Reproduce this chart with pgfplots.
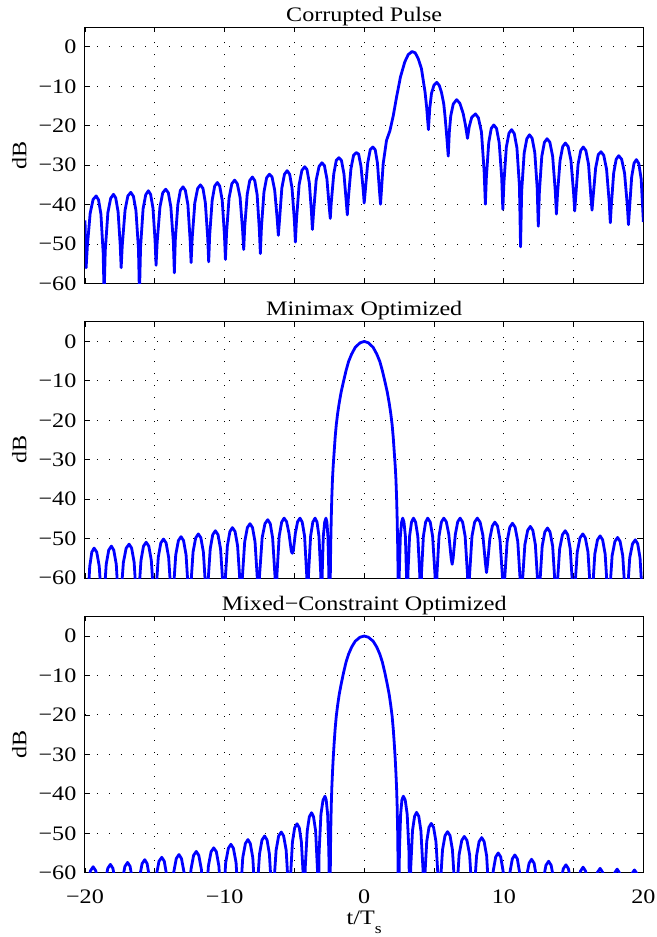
\documentclass[border=0pt]{standalone}
\usepackage{fontspec}
\setmainfont{Liberation Serif}[FakeStretch=1.17]
\usepackage{pgfplots}
\pgfplotsset{compat=1.18}
\newcommand{\lblfont}{\fontsize{10.3}{12}\selectfont}
\pgfplotsset{
  panel/.style={
    scale only axis, width=279.2pt, height=128.2pt,
    xmin=-20, xmax=20, ymin=-60, ymax=5,
    xtick={-20,-10,0,10,20},
    extra x ticks={-15,-5,5,15}, extra x tick labels={},
    extra x tick style={grid=major},
    ytick={-60,-50,-40,-30,-20,-10,0},
    yticklabels={−60,−50,−40,−30,−20,−10,0},
    grid=major,
    grid style={black, line width=0.5pt, dash pattern=on 0.5pt off 5.5pt},
    tick align=inside, major tick length=2.5pt,
    tick style={black, line width=0.4pt},
    axis line style={line width=0.5pt},
    ylabel={dB},
    tick label style={font=\lblfont},
    yticklabel style={xshift=-0.8pt},
    xticklabel style={yshift=-5.2pt},
    ylabel style={font=\lblfont, at={(axis description cs:-0.1038,0.5)}, anchor=south, inner sep=0pt},
    title style={font=\lblfont, inner sep=0pt, yshift=0.5pt},
    every axis title shift=0pt,
    clip=true,
  },
  curve/.style={blue, line width=1.4pt, line join=round, no markers},
}
\begin{document}
\begin{tikzpicture}
% ---------------- Panel 1 ----------------
\begin{axis}[panel, at={(0,294.6pt)}, anchor=south west, title={Corrupted Pulse}, xticklabels={}]
\addplot[curve] coordinates {
(-20.00,-44.0) (-19.92,-56.0)
(-19.83,-50.5) (-19.63,-42.2) (-19.42,-38.7) (-19.20,-37.8) (-19.03,-38.8) (-18.86,-42.4) (-18.70,-52.1) (-18.63,-63.0)
(-18.55,-51.7) (-18.36,-42.0) (-18.16,-38.4) (-17.96,-37.4) (-17.80,-38.3) (-17.63,-41.8) (-17.48,-50.1) (-17.41,-56.0)
(-17.33,-50.3) (-17.13,-41.4) (-16.93,-37.8) (-16.72,-36.9) (-16.53,-37.9) (-16.35,-41.5) (-16.17,-51.2) (-16.10,-63.0)
(-16.02,-50.8) (-15.84,-41.1) (-15.65,-37.5) (-15.46,-36.5) (-15.30,-37.4) (-15.13,-40.9) (-14.98,-49.2) (-14.91,-55.4)
(-14.83,-49.5) (-14.63,-40.6) (-14.43,-37.0) (-14.22,-36.1) (-14.03,-37.0) (-13.85,-40.6) (-13.67,-49.5) (-13.60,-57.3)
(-13.53,-48.9) (-13.35,-40.0) (-13.17,-36.4) (-12.98,-35.5) (-12.81,-36.4) (-12.63,-40.0) (-12.47,-48.9) (-12.40,-54.7)
(-12.32,-48.4) (-12.13,-39.5) (-11.93,-35.9) (-11.73,-35.0) (-11.55,-35.9) (-11.38,-39.5) (-11.21,-48.4) (-11.14,-54.5)
(-11.07,-47.8) (-10.89,-38.9) (-10.71,-35.3) (-10.52,-34.4) (-10.35,-35.3) (-10.17,-38.9) (-10.01,-47.8) (-9.94,-53.9)
(-9.86,-47.2) (-9.68,-38.3) (-9.48,-34.7) (-9.28,-33.8) (-9.09,-34.7) (-8.89,-38.2) (-8.71,-46.5) (-8.63,-51.4)
(-8.56,-45.7) (-8.38,-37.4) (-8.20,-33.9) (-8.01,-33.0) (-7.84,-33.9) (-7.67,-37.5) (-7.51,-46.4) (-7.44,-52.4)
(-7.36,-45.7) (-7.18,-36.8) (-6.99,-33.2) (-6.79,-32.3) (-6.60,-33.0) (-6.41,-36.4) (-6.23,-43.7) (-6.15,-47.8)
(-6.07,-44.1) (-5.90,-35.8) (-5.71,-32.3) (-5.52,-31.4) (-5.34,-32.3) (-5.17,-35.8) (-5.00,-44.1) (-4.93,-49.5)
(-4.85,-43.8) (-4.66,-34.9) (-4.46,-31.3) (-4.26,-30.4) (-4.10,-31.1) (-3.93,-34.5) (-3.78,-41.8) (-3.71,-46.3)
(-3.63,-42.1) (-3.44,-33.8) (-3.23,-30.3) (-3.03,-29.4) (-2.85,-30.1) (-2.67,-33.5) (-2.50,-40.8) (-2.43,-43.5)
(-2.36,-39.5) (-2.18,-32.2) (-2.00,-28.8) (-1.81,-28.1) (-1.63,-28.8) (-1.45,-32.2) (-1.28,-39.5) (-1.21,-42.6)
(-1.13,-38.2) (-0.95,-30.9) (-0.76,-27.5) (-0.57,-26.8) (-0.40,-27.2) (-0.23,-30.3) (-0.07,-36.3) (0.00,-39.6)
(0.07,-36.8) (0.25,-29.5) (0.43,-26.1) (0.62,-25.4) (0.79,-26.1) (0.95,-29.5) (1.10,-36.8) (1.17,-39.9)
(1.36,-29.6) (1.60,-23.7) (1.84,-21.3) (2.08,-17.5) (2.32,-12.7) (2.60,-7.6) (2.91,-3.8) (3.15,-2.0) (3.42,-1.2) (3.65,-1.5) (3.87,-3.0) (4.10,-5.5) (4.23,-8.5) (4.36,-11.5) (4.47,-15.2) (4.60,-21.0)
(4.70,-15.5) (4.82,-11.8) (5.00,-9.7) (5.20,-9.0) (5.38,-9.8) (5.54,-11.6) (5.70,-14.5) (5.80,-18.0) (5.92,-23.0) (6.02,-27.7)
(6.10,-21.5) (6.20,-17.5) (6.38,-14.5) (6.62,-13.4) (6.85,-14.3) (7.09,-16.9) (7.25,-19.8) (7.40,-23.2)
(7.52,-20.3) (7.70,-17.9) (7.97,-17.0) (8.18,-18.0) (8.40,-21.6) (8.59,-31.5) (8.68,-39.9)
(8.75,-33.2) (8.92,-24.3) (9.10,-20.7) (9.28,-19.8) (9.48,-20.7) (9.67,-24.3) (9.85,-33.2) (9.93,-41.2)
(10.01,-34.4) (10.18,-25.5) (10.37,-21.9) (10.56,-21.0) (10.75,-22.0) (10.94,-25.6) (11.12,-35.3) (11.20,-50.7)
(11.28,-36.6) (11.46,-26.9) (11.65,-23.3) (11.84,-22.3) (12.03,-23.2) (12.22,-26.8) (12.39,-35.7) (12.47,-45.5)
(12.55,-36.7) (12.72,-27.8) (12.91,-24.2) (13.10,-23.3) (13.30,-24.2) (13.50,-27.8) (13.69,-36.7) (13.77,-42.4)
(13.85,-37.1) (14.03,-28.8) (14.22,-25.3) (14.41,-24.4) (14.61,-25.3) (14.81,-28.8) (15.00,-37.1) (15.08,-41.6)
(15.15,-38.1) (15.32,-29.8) (15.51,-26.3) (15.69,-25.4) (15.88,-26.3) (16.07,-29.8) (16.24,-38.1) (16.32,-41.4)
(16.40,-38.0) (16.58,-30.7) (16.77,-27.3) (16.96,-26.6) (17.16,-27.5) (17.36,-31.0) (17.55,-39.3) (17.63,-44.6)
(17.70,-40.3) (17.87,-32.0) (18.05,-28.5) (18.23,-27.6) (18.44,-28.5) (18.65,-32.0) (18.85,-40.3) (18.93,-45.1)
(19.00,-41.3) (19.16,-33.0) (19.33,-29.5) (19.50,-28.6) (19.67,-29.6) (19.84,-33.5) (20.00,-44.4)
};
\end{axis}
% ---------------- Panel 2 ----------------
\begin{axis}[panel, at={(0,147.3pt)}, anchor=south west, title={Minimax Optimized}, xticklabels={}]
\addplot[curve] coordinates {
(-20.00,-75) (-19.87,-80)
(-19.81,-66.7) (-19.66,-57.0) (-19.51,-53.4) (-19.35,-52.4) (-19.16,-53.4) (-18.98,-57.0) (-18.80,-66.7) (-18.73,-80)
(-18.66,-66.2) (-18.48,-56.5) (-18.30,-52.9) (-18.11,-51.9) (-17.94,-52.9) (-17.76,-56.5) (-17.60,-66.2) (-17.53,-80)
(-17.45,-65.7) (-17.25,-56.0) (-17.05,-52.4) (-16.84,-51.4) (-16.66,-52.4) (-16.48,-56.0) (-16.31,-65.7) (-16.24,-80)
(-16.17,-65.2) (-15.99,-55.5) (-15.81,-51.9) (-15.62,-50.9) (-15.43,-51.9) (-15.25,-55.5) (-15.07,-65.2) (-15.00,-80)
(-14.93,-64.4) (-14.75,-54.7) (-14.57,-51.1) (-14.38,-50.1) (-14.19,-51.1) (-14.01,-54.7) (-13.83,-64.4) (-13.76,-80)
(-13.68,-63.8) (-13.50,-54.1) (-13.31,-50.5) (-13.12,-49.5) (-12.94,-50.5) (-12.76,-54.1) (-12.59,-63.8) (-12.52,-80)
(-12.44,-63.1) (-12.26,-53.4) (-12.07,-49.8) (-11.88,-48.8) (-11.70,-49.8) (-11.52,-53.4) (-11.35,-63.1) (-11.28,-80)
(-11.21,-62.3) (-11.03,-52.6) (-10.85,-49.0) (-10.66,-48.0) (-10.47,-49.0) (-10.29,-52.6) (-10.11,-62.3) (-10.04,-80)
(-9.97,-61.5) (-9.80,-51.8) (-9.62,-48.2) (-9.44,-47.2) (-9.25,-48.2) (-9.07,-51.8) (-8.89,-61.5) (-8.82,-80)
(-8.74,-60.5) (-8.56,-50.8) (-8.37,-47.2) (-8.18,-46.2) (-8.00,-47.2) (-7.82,-50.8) (-7.65,-60.5) (-7.58,-80)
(-7.50,-59.5) (-7.31,-49.8) (-7.11,-46.2) (-6.91,-45.2) (-6.73,-46.2) (-6.56,-49.8) (-6.39,-59.5) (-6.32,-80)
(-6.25,-59.1) (-6.09,-49.4) (-5.91,-45.8) (-5.74,-44.8) (-5.56,-45.7) (-5.39,-48.6) (-5.22,-53.2) (-5.15,-53.7)
(-5.08,-53.2) (-4.93,-48.6) (-4.77,-45.7) (-4.60,-44.8) (-4.44,-45.8) (-4.27,-49.4) (-4.12,-59.1) (-4.05,-80)
(-3.99,-59.1) (-3.84,-49.4) (-3.68,-45.8) (-3.52,-44.8) (-3.38,-45.8) (-3.24,-49.4) (-3.11,-59.1) (-3.05,-80)
(-3.01,-59.1) (-2.93,-49.4) (-2.83,-45.8) (-2.74,-44.8) (-2.67,-45.8) (-2.60,-49.4) (-2.53,-59.1) (-2.50,-80)
(-2.45,-70) (-2.43,-60) (-2.40,-52) (-2.36,-44.8) (-2.32,-39.5) (-2.27,-34.7) (-2.22,-31.5) (-2.15,-27.9) (-2.08,-24.3) (-2.00,-21.1) (-1.90,-18.2) (-1.79,-15.6) (-1.65,-12.8) (-1.48,-10.1) (-1.30,-7.4) (-1.12,-5.1) (-0.90,-3.2) (-0.64,-1.5) (-0.30,-0.35) (0,0)
(0.30,-0.35) (0.64,-1.5) (0.90,-3.2) (1.12,-5.1) (1.30,-7.4) (1.48,-10.1) (1.65,-12.8) (1.79,-15.6) (1.90,-18.2) (2.00,-21.1) (2.08,-24.3) (2.15,-27.9) (2.22,-31.5) (2.27,-34.7) (2.32,-39.5) (2.36,-44.8) (2.40,-52) (2.43,-60) (2.45,-70) (2.48,-80)
(2.51,-59.1) (2.59,-49.4) (2.68,-45.8) (2.76,-44.8) (2.85,-45.8) (2.95,-49.4) (3.03,-59.1) (3.07,-80)
(3.13,-59.1) (3.25,-49.4) (3.39,-45.8) (3.53,-44.8) (3.68,-45.8) (3.84,-49.4) (3.98,-59.1) (4.04,-80)
(4.10,-59.1) (4.24,-49.4) (4.40,-45.8) (4.55,-44.8) (4.73,-45.8) (4.90,-49.4) (5.07,-59.1) (5.14,-80)
(5.21,-59.1) (5.36,-49.4) (5.53,-45.8) (5.70,-44.8) (5.88,-45.7) (6.06,-48.9) (6.23,-55.0) (6.30,-56.5)
(6.37,-55.0) (6.53,-48.9) (6.70,-45.7) (6.87,-44.8) (7.05,-45.8) (7.23,-49.4) (7.40,-59.1) (7.47,-80)
(7.55,-59.1) (7.72,-49.4) (7.91,-45.8) (8.10,-44.8) (8.30,-45.8) (8.50,-49.1) (8.68,-56.1) (8.76,-58.6)
(8.83,-56.6) (9.00,-50.0) (9.18,-46.8) (9.36,-45.8) (9.55,-46.8) (9.73,-50.4) (9.91,-60.1) (9.98,-80)
(10.06,-60.4) (10.24,-50.7) (10.43,-47.1) (10.62,-46.1) (10.81,-47.1) (11.00,-50.7) (11.17,-60.4) (11.25,-80)
(11.33,-61.2) (11.51,-51.5) (11.71,-47.9) (11.90,-46.9) (12.08,-47.9) (12.26,-51.5) (12.43,-61.2) (12.50,-80)
(12.58,-61.6) (12.75,-51.9) (12.94,-48.3) (13.13,-47.3) (13.31,-48.3) (13.50,-51.9) (13.67,-61.6) (13.74,-80)
(13.82,-62.3) (14.00,-52.6) (14.20,-49.0) (14.40,-48.0) (14.58,-49.0) (14.76,-52.6) (14.93,-62.3) (15.00,-80)
(15.08,-63.1) (15.26,-53.4) (15.46,-49.8) (15.66,-48.8) (15.84,-49.8) (16.03,-53.4) (16.20,-63.1) (16.27,-80)
(16.35,-63.6) (16.52,-53.9) (16.71,-50.3) (16.90,-49.3) (17.08,-50.3) (17.26,-53.9) (17.43,-63.6) (17.50,-80)
(17.58,-64.0) (17.76,-54.3) (17.96,-50.7) (18.15,-49.7) (18.33,-50.7) (18.52,-54.3) (18.69,-64.0) (18.76,-80)
(18.84,-64.6) (19.02,-54.9) (19.22,-51.3) (19.42,-50.3) (19.59,-51.3) (19.76,-54.9) (19.92,-64.6) (19.99,-80) (20.00,-78)
};
\end{axis}
% ---------------- Panel 3 ----------------
\begin{axis}[panel, at={(0,0pt)}, anchor=south west, title={Mixed−Constraint Optimized},
  xticklabels={−20,−10,0,10,20},
  xlabel={t/T\raisebox{-4.2pt}{\fontsize{7.5}{8}\selectfont s}},
  xlabel style={font=\lblfont, at={(axis description cs:0.5,-0.149)}, anchor=north, inner sep=0pt}]
\addplot[curve] coordinates {
(-20.00,-76)
(-19.98,-72.8) (-19.80,-63.1) (-19.61,-59.5) (-19.42,-58.5) (-19.23,-59.5) (-19.05,-63.1) (-18.87,-72.8) (-18.80,-80)
(-18.73,-72.2) (-18.55,-62.5) (-18.37,-58.9) (-18.18,-57.9) (-18.00,-58.9) (-17.82,-62.5) (-17.65,-72.2) (-17.58,-80)
(-17.50,-71.7) (-17.33,-62.0) (-17.14,-58.4) (-16.95,-57.4) (-16.77,-58.4) (-16.60,-62.0) (-16.43,-71.7) (-16.36,-80)
(-16.28,-71.0) (-16.10,-61.3) (-15.91,-57.7) (-15.72,-56.7) (-15.55,-57.7) (-15.38,-61.3) (-15.22,-71.0) (-15.15,-80)
(-15.07,-70.4) (-14.89,-60.7) (-14.70,-57.1) (-14.50,-56.1) (-14.32,-57.1) (-14.15,-60.7) (-13.98,-70.4) (-13.91,-80)
(-13.83,-69.7) (-13.65,-60.0) (-13.46,-56.4) (-13.27,-55.4) (-13.09,-56.4) (-12.90,-60.0) (-12.73,-69.7) (-12.66,-80)
(-12.58,-68.9) (-12.41,-59.2) (-12.22,-55.6) (-12.03,-54.6) (-11.85,-55.6) (-11.66,-59.2) (-11.49,-68.9) (-11.42,-80)
(-11.34,-68.0) (-11.16,-58.3) (-10.97,-54.7) (-10.78,-53.7) (-10.59,-54.7) (-10.41,-58.3) (-10.23,-68.0) (-10.16,-80)
(-10.09,-67.1) (-9.92,-57.4) (-9.73,-53.8) (-9.55,-52.8) (-9.37,-53.8) (-9.18,-57.4) (-9.01,-67.1) (-8.94,-80)
(-8.87,-65.9) (-8.70,-56.2) (-8.51,-52.6) (-8.33,-51.6) (-8.16,-52.6) (-7.98,-56.2) (-7.82,-65.9) (-7.75,-80)
(-7.68,-65.0) (-7.50,-55.3) (-7.32,-51.7) (-7.13,-50.7) (-6.96,-51.7) (-6.79,-55.3) (-6.63,-65.0) (-6.56,-80)
(-6.49,-64.0) (-6.31,-54.3) (-6.13,-50.7) (-5.94,-49.7) (-5.77,-50.7) (-5.59,-54.3) (-5.43,-64.0) (-5.36,-80)
(-5.29,-61.9) (-5.14,-52.2) (-4.98,-48.6) (-4.81,-47.6) (-4.65,-48.6) (-4.50,-52.2) (-4.35,-61.9) (-4.29,-80)
(-4.23,-59.1) (-4.08,-49.4) (-3.93,-45.8) (-3.77,-44.8) (-3.63,-45.8) (-3.48,-49.4) (-3.35,-59.1) (-3.29,-80)
(-3.23,-54.9) (-3.10,-45.2) (-2.95,-41.6) (-2.81,-40.6) (-2.72,-41.6) (-2.62,-45.2) (-2.53,-54.9) (-2.50,-80)
(-2.45,-70) (-2.43,-60) (-2.40,-50) (-2.36,-43) (-2.32,-38.5) (-2.27,-34.5) (-2.22,-31) (-2.15,-27) (-2.08,-23.5) (-2.00,-20.3) (-1.90,-17.5) (-1.79,-14.8) (-1.65,-12.2) (-1.48,-9.3) (-1.30,-6.6) (-1.12,-4.6) (-0.90,-2.8) (-0.64,-1.3) (-0.30,-0.3) (0,0)
(0.30,-0.3) (0.64,-1.3) (0.90,-2.8) (1.12,-4.6) (1.30,-6.6) (1.48,-9.3) (1.65,-12.2) (1.79,-14.8) (1.90,-17.5) (2.00,-20.3) (2.08,-23.5) (2.15,-27) (2.22,-31) (2.27,-34.5) (2.32,-38.5) (2.36,-43) (2.40,-50) (2.43,-60) (2.45,-70) (2.48,-80)
(2.52,-54.9) (2.61,-45.2) (2.70,-41.6) (2.80,-40.6) (2.94,-41.6) (3.08,-45.2) (3.21,-54.9) (3.27,-80)
(3.33,-59.0) (3.46,-49.3) (3.61,-45.7) (3.75,-44.7) (3.91,-45.7) (4.06,-49.3) (4.21,-59.0) (4.27,-80)
(4.33,-61.8) (4.48,-52.1) (4.64,-48.5) (4.80,-47.5) (4.97,-48.5) (5.14,-52.1) (5.30,-61.8) (5.37,-80)
(5.44,-63.9) (5.61,-54.2) (5.79,-50.6) (5.97,-49.6) (6.15,-50.6) (6.32,-54.2) (6.49,-63.9) (6.56,-80)
(6.63,-65.1) (6.80,-55.4) (6.99,-51.8) (7.17,-50.8) (7.36,-51.8) (7.55,-55.4) (7.72,-65.1) (7.80,-80)
(7.87,-65.4) (8.05,-55.7) (8.23,-52.1) (8.42,-51.1) (8.59,-52.1) (8.77,-55.7) (8.93,-65.4) (9.00,-80)
(9.07,-69.3) (9.24,-59.6) (9.42,-56.0) (9.60,-55.0) (9.78,-56.0) (9.95,-59.6) (10.12,-69.3) (10.19,-80)
(10.26,-69.8) (10.43,-60.1) (10.61,-56.5) (10.79,-55.5) (10.97,-56.5) (11.14,-60.1) (11.31,-69.8) (11.38,-80)
(11.45,-70.9) (11.62,-61.2) (11.81,-57.6) (11.99,-56.6) (12.17,-57.6) (12.34,-61.2) (12.51,-70.9) (12.58,-80)
(12.66,-71.4) (12.83,-61.7) (13.02,-58.1) (13.21,-57.1) (13.39,-58.1) (13.58,-61.7) (13.75,-71.4) (13.82,-80)
(13.90,-72.3) (14.07,-62.6) (14.26,-59.0) (14.45,-58.0) (14.63,-59.0) (14.82,-62.6) (14.99,-72.3) (15.06,-80)
(15.13,-72.9) (15.31,-63.2) (15.49,-59.6) (15.68,-58.6) (15.86,-59.6) (16.04,-63.2) (16.21,-72.9) (16.28,-80)
(16.35,-73.2) (16.53,-63.5) (16.71,-59.9) (16.90,-58.9) (17.08,-59.9) (17.26,-63.5) (17.43,-73.2) (17.50,-80)
(17.57,-73.4) (17.75,-63.7) (17.93,-60.1) (18.12,-59.1) (18.30,-60.1) (18.47,-63.7) (18.64,-73.4) (18.71,-80)
(18.79,-73.6) (18.97,-63.9) (19.17,-60.3) (19.36,-59.3) (19.55,-60.3) (19.73,-63.9) (19.91,-73.6) (19.98,-80) (20.00,-78)
};
\end{axis}
\pgfresetboundingbox
\path[use as bounding box] (-42.5pt,-32.15pt) rectangle (286pt,436.35pt);
\end{tikzpicture}
\end{document}
